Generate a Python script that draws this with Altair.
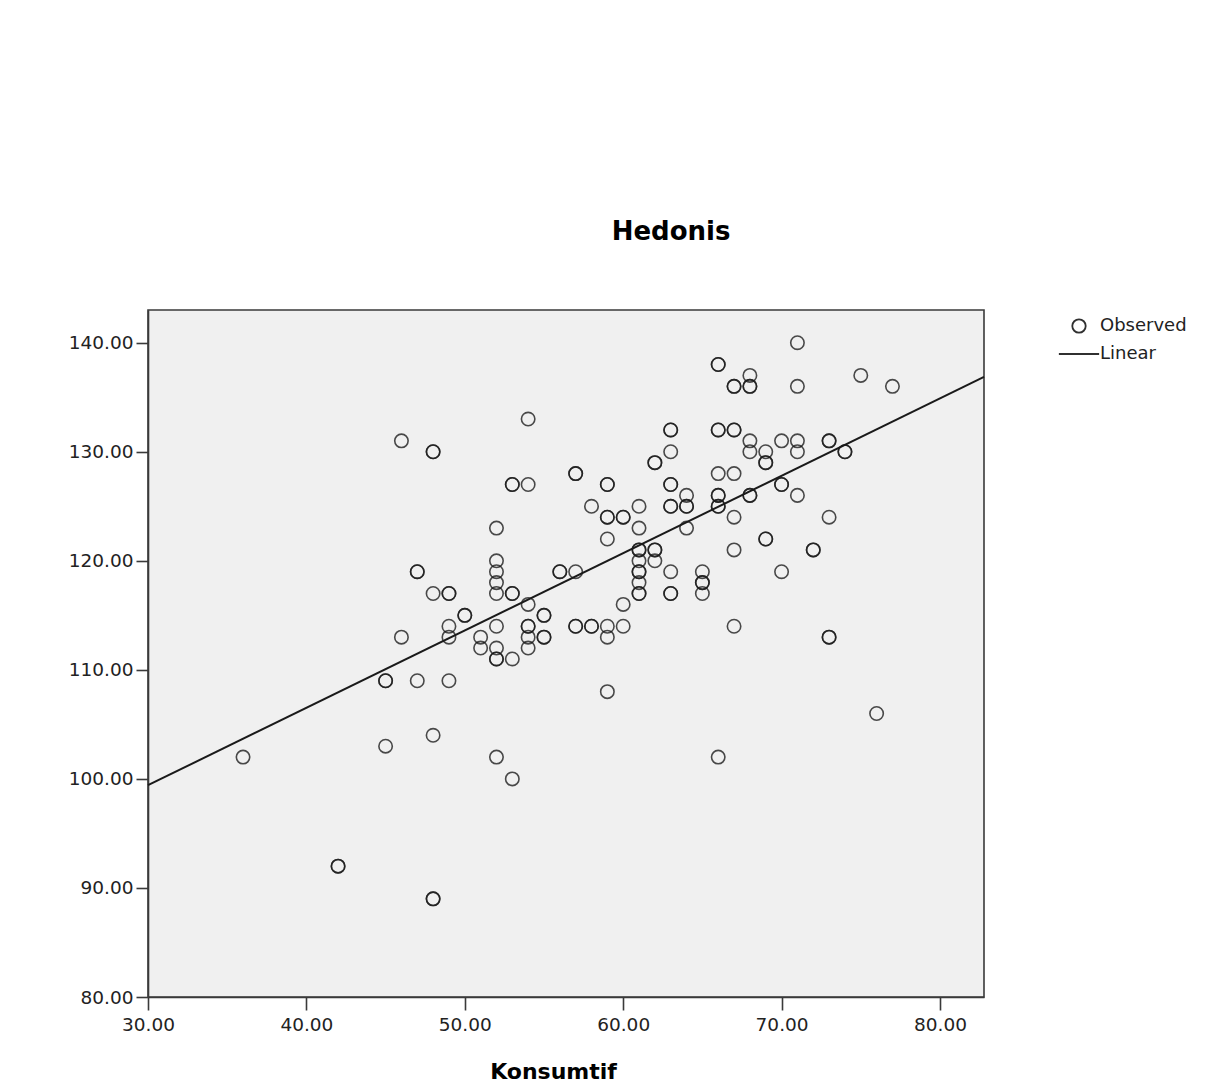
import altair as alt
import pandas as pd

# Observed cases (Konsumtif, Hedonis); repeated pairs are overlapping cases
konsumtif = [
    36,
    42, 42,
    45, 45, 45,
    46, 46,
    47, 47, 47,
    48, 48, 48, 48, 48, 48,
    49, 49, 49, 49, 49,
    50, 50,
    51, 51,
    52, 52, 52, 52, 52, 52, 52, 52, 52, 52,
    53, 53, 53, 53, 53, 53,
    54, 54, 54, 54, 54, 54, 54,
    55, 55, 55, 55,
    56, 56,
    57, 57, 57, 57, 57,
    58, 58, 58,
    59, 59, 59, 59, 59, 59, 59, 59,
    60, 60, 60, 60,
    61, 61, 61, 61, 61, 61, 61, 61, 61, 61,
    62, 62, 62, 62, 62,
    63, 63, 63, 63, 63, 63, 63, 63, 63, 63,
    64, 64, 64, 64,
    65, 65, 65, 65,
    66, 66, 66, 66, 66, 66, 66, 66, 66, 66,
    67, 67, 67, 67, 67, 67, 67, 67,
    68, 68, 68, 68, 68, 68, 68,
    69, 69, 69, 69, 69,
    70, 70, 70, 70,
    71, 71, 71, 71, 71,
    72, 72,
    73, 73, 73, 73, 73,
    74, 74,
    75,
    76,
    77,
]
hedonis = [
    102,
    92, 92,
    109, 109, 103,
    131, 113,
    119, 119, 109,
    130, 130, 117, 104, 89, 89,
    117, 117, 114, 113, 109,
    115, 115,
    113, 112,
    123, 120, 119, 118, 117, 114, 112, 111, 111, 102,
    127, 127, 117, 117, 111, 100,
    133, 127, 116, 114, 114, 113, 112,
    115, 115, 113, 113,
    119, 119,
    128, 128, 119, 114, 114,
    125, 114, 114,
    127, 127, 124, 124, 122, 114, 113, 108,
    124, 124, 116, 114,
    125, 123, 121, 121, 120, 119, 119, 118, 117, 117,
    129, 129, 121, 121, 120,
    132, 132, 130, 127, 127, 125, 125, 119, 117, 117,
    126, 125, 125, 123,
    119, 118, 118, 117,
    138, 138, 132, 132, 128, 126, 126, 125, 125, 102,
    136, 136, 132, 132, 128, 124, 121, 114,
    137, 136, 136, 131, 130, 126, 126,
    130, 129, 129, 122, 122,
    131, 127, 127, 119,
    140, 136, 131, 130, 126,
    121, 121,
    131, 131, 124, 113, 113,
    130, 130,
    137,
    106,
    136,
]
series_names = ["Observed", "Linear"]
x_ticks = [30, 40, 50, 60, 70, 80]
y_ticks = [80, 90, 100, 110, 120, 130, 140]
x_domain = [30, 82.78]
y_domain = [80, 143.0]

df = pd.DataFrame({"Konsumtif": konsumtif, "Hedonis": hedonis})
df["series"] = series_names[0]

ink = "#1a1a1a"
font = "DejaVu Sans"

xscale = alt.Scale(domain=x_domain, nice=False, zero=False)
yscale = alt.Scale(domain=y_domain, nice=False, zero=False)

points = alt.Chart(df).mark_point(
    filled=False, size=180, strokeWidth=1.6, opacity=0.78, color=ink
).encode(
    x=alt.X(
        "Konsumtif:Q",
        scale=xscale,
        axis=alt.Axis(
            values=x_ticks, format=".2f", title="Konsumtif",
            titleX=405, titleY=74, titleAlign="center", titleBaseline="middle",
            titleFontSize=22, titleFontWeight="bold", titleFont=font, titleColor="#000000",
            tickSize=13, labelPadding=5, labelFlush=False,
        ),
    ),
    y=alt.Y(
        "Hedonis:Q",
        scale=yscale,
        axis=alt.Axis(values=y_ticks, format=".2f", title=None, tickSize=12,
                      labelPadding=3, labelFlush=False),
    ),
    shape=alt.Shape(
        "series:N",
        scale=alt.Scale(domain=series_names, range=["circle", "M-3,0H3"]),
        legend=alt.Legend(
            title=None, orient="none", legendX=922, legendY=7,
            symbolSize=180, symbolStrokeWidth=1.8, symbolStrokeColor=ink,
            symbolFillColor="transparent", symbolOpacity=0.9,
            labelFontSize=18, labelFont=font,
            labelColor="#222222", labelOffset=12, rowPadding=8, padding=0,
        ),
    ),
)

line = alt.Chart(df).transform_regression(
    "Konsumtif", "Hedonis", extent=x_domain
).mark_line(color=ink, strokeWidth=2).encode(
    x=alt.X("Konsumtif:Q", scale=xscale),
    y=alt.Y("Hedonis:Q", scale=yscale),
)

chart = alt.layer(points, line).properties(
    width=836,
    height=687,
    title=alt.TitleParams(
        "Hedonis", anchor="middle", dx=105, offset=65,
        fontSize=26, font=font, fontWeight="bold", color="#000000",
    ),
    padding={"left": 140, "top": 302, "right": 221, "bottom": 90},
    autosize=alt.AutoSizeParams(type="none"),
    background="white",
).configure_view(
    fill="#f0f0f0", stroke="#3a3a3a", strokeWidth=1.6
).configure_axis(
    grid=False, domainColor="#3a3a3a", domainWidth=1.6,
    tickColor="#3a3a3a", tickWidth=1.6,
    labelFont=font, labelFontSize=18.5, labelColor="#222222",
)

chart.save("out.html", embed_options={"renderer": "svg", "actions": False})
